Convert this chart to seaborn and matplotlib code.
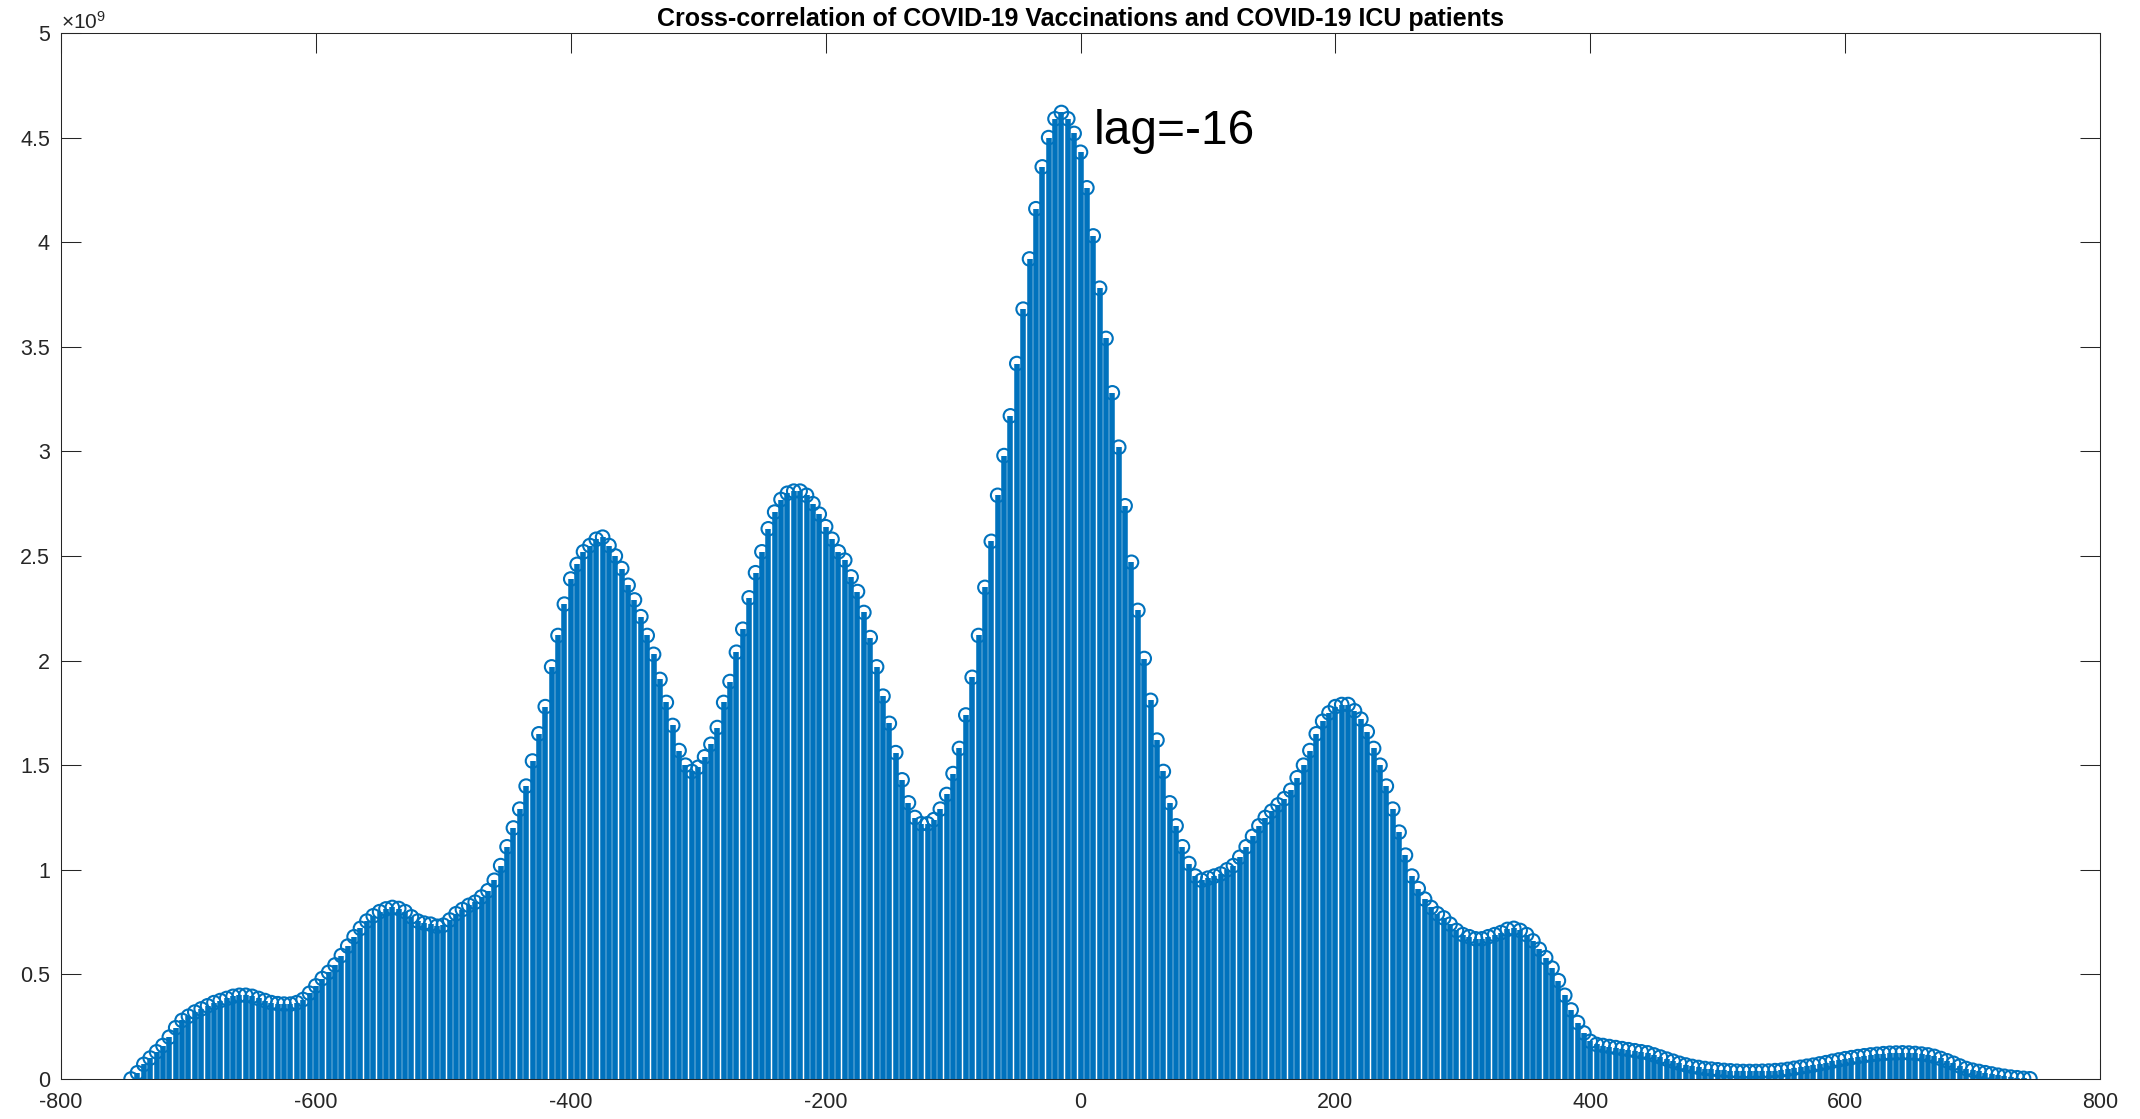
import numpy as np
import matplotlib
matplotlib.use("Agg")
import matplotlib.pyplot as plt
import seaborn as sns

# ---------------- data (values in units of 1e9) ----------------
lags = np.arange(-745, 746, 5)
xcorr_vals = [
    0.00, 0.03, 0.07, 0.10, 0.13, 0.16, 0.20, 0.245, 0.28, 0.30,        # -745 .. -700
    0.32, 0.335, 0.35, 0.365, 0.375, 0.385, 0.395, 0.40, 0.40, 0.395,   # -695 .. -650
    0.385, 0.375, 0.365, 0.36, 0.358, 0.358, 0.365, 0.38, 0.41, 0.445,  # -645 .. -600
    0.48, 0.51, 0.545, 0.59, 0.635, 0.68, 0.72, 0.755, 0.78, 0.80,      # -595 .. -550
    0.813, 0.82, 0.815, 0.80, 0.775, 0.755, 0.745, 0.74, 0.73, 0.735,   # -545 .. -500
    0.76, 0.79, 0.81, 0.83, 0.845, 0.87, 0.90, 0.95, 1.02, 1.11,        # -495 .. -450
    1.20, 1.29, 1.40, 1.52, 1.65, 1.78, 1.97, 2.12, 2.27, 2.39,         # -445 .. -400
    2.46, 2.52, 2.55, 2.58, 2.59, 2.55, 2.50, 2.44, 2.36, 2.29,         # -395 .. -350
    2.21, 2.12, 2.03, 1.91, 1.80, 1.69, 1.57, 1.50, 1.47, 1.49,         # -345 .. -300
    1.54, 1.60, 1.68, 1.80, 1.90, 2.04, 2.15, 2.30, 2.42, 2.52,         # -295 .. -250
    2.63, 2.71, 2.77, 2.80, 2.81, 2.81, 2.79, 2.75, 2.70, 2.64,         # -245 .. -200
    2.58, 2.52, 2.48, 2.40, 2.33, 2.23, 2.11, 1.97, 1.83, 1.70,         # -195 .. -150
    1.56, 1.43, 1.32, 1.25, 1.22, 1.22, 1.24, 1.29, 1.36, 1.46,         # -145 .. -100
    1.58, 1.74, 1.92, 2.12, 2.35, 2.57, 2.79, 2.98, 3.17, 3.42,         # -95 .. -50
    3.68, 3.92, 4.16, 4.36, 4.50, 4.59, 4.62, 4.59, 4.52, 4.43,         # -45 .. 0
    4.26, 4.03, 3.78, 3.54, 3.28, 3.02, 2.74, 2.47, 2.24, 2.01,         # 5 .. 50
    1.81, 1.62, 1.47, 1.32, 1.21, 1.11, 1.03, 0.97, 0.95, 0.96,         # 55 .. 100
    0.97, 0.98, 1.00, 1.02, 1.06, 1.11, 1.16, 1.21, 1.25, 1.28,         # 105 .. 150
    1.31, 1.34, 1.38, 1.44, 1.50, 1.57, 1.65, 1.71, 1.75, 1.78,         # 155 .. 200
    1.79, 1.79, 1.76, 1.72, 1.66, 1.58, 1.50, 1.40, 1.29, 1.18,         # 205 .. 250
    1.07, 0.97, 0.91, 0.86, 0.82, 0.79, 0.77, 0.74, 0.71, 0.69,         # 255 .. 300
    0.68, 0.67, 0.67, 0.68, 0.69, 0.70, 0.715, 0.72, 0.71, 0.69,        # 305 .. 350
    0.66, 0.62, 0.58, 0.53, 0.47, 0.40, 0.33, 0.27, 0.22, 0.18,         # 355 .. 400
    0.165, 0.16, 0.155, 0.15, 0.145, 0.14, 0.135, 0.13, 0.125, 0.115,   # 405 .. 450
    0.105, 0.095, 0.085, 0.075, 0.067, 0.06, 0.055, 0.05, 0.047, 0.044, # 455 .. 500
    0.041, 0.039, 0.037, 0.036, 0.036, 0.036, 0.037, 0.038, 0.04, 0.042,# 505 .. 550
    0.046, 0.051, 0.056, 0.061, 0.066, 0.072, 0.078, 0.085, 0.091, 0.097,  # 555 .. 600
    0.102, 0.107, 0.111, 0.115, 0.118, 0.121, 0.123, 0.124, 0.125, 0.124, # 605 .. 650
    0.122, 0.119, 0.115, 0.108, 0.098, 0.087, 0.075, 0.062, 0.05, 0.042,  # 655 .. 700
    0.036, 0.03, 0.024, 0.018, 0.013, 0.009, 0.006, 0.003, 0.001,         # 705 .. 745
]
xticks = [-800, -600, -400, -200, 0, 200, 400, 600, 800]
yticks = [0, 0.5, 1, 1.5, 2, 2.5, 3, 3.5, 4, 4.5, 5]
ytick_labels = ["0", "0.5", "1", "1.5", "2", "2.5", "3", "3.5", "4", "4.5", "5"]
title_text = "Cross-correlation of COVID-19 Vaccinations and COVID-19 ICU patients"
peak_label = "lag=-16"
peak_label_pos = (10.7, 4.47)

# ---------------- style ----------------
sns.set_theme(style="white")
plt.rcParams["font.family"] = ["Liberation Sans", "DejaVu Sans"]
plt.rcParams["axes.unicode_minus"] = False
plt.rcParams["mathtext.fontset"] = "custom"
plt.rcParams["mathtext.rm"] = "Liberation Sans"
plt.rcParams["mathtext.it"] = "Liberation Sans:italic"
plt.rcParams["mathtext.bf"] = "Liberation Sans:bold"

BLUE = "#0072BD"
AXC = "#262626"

W, H = 2140, 1119
fig = plt.figure(figsize=(W / 100, H / 100), dpi=100)
ax = fig.add_axes([61 / W, (H - 1079) / H, (2100 - 61) / W, (1079 - 33) / H])

ax.vlines(lags, 0, xcorr_vals, colors=BLUE, linewidth=4.0, zorder=2)
sns.scatterplot(x=lags, y=xcorr_vals, ax=ax, marker="o", s=95,
                facecolor="none", edgecolor=BLUE, linewidth=1.5,
                zorder=3, legend=False)

ax.set_xlim(-800, 800)
ax.set_ylim(0, 5)
ax.set_xticks(xticks)
ax.set_xticklabels([str(t) for t in xticks])
ax.set_yticks(yticks)
ax.set_yticklabels(ytick_labels)
ax.set_xlabel("")
ax.set_ylabel("")

ax.tick_params(axis="both", direction="in", length=14.4, width=0.75,
               color=AXC, labelcolor=AXC, labelsize=15.5,
               top=True, right=True, bottom=True, left=True,
               labeltop=False, labelright=False)
ax.tick_params(axis="x", pad=9)
ax.tick_params(axis="y", pad=8)
for sp in ax.spines.values():
    sp.set_visible(True)
    sp.set_color(AXC)
    sp.set_linewidth(0.75)

ax.set_title(title_text, fontweight="bold", fontsize=18, color="black", pad=5)
ax.text(peak_label_pos[0], peak_label_pos[1], peak_label, fontsize=34.5,
        ha="left", va="baseline", color="black", zorder=5)
ax.text(0.0, 1 + 4 / 1046, r"$\times\mathregular{10}^{9}$", transform=ax.transAxes,
        fontsize=15, ha="left", va="baseline", color=AXC)

fig.savefig("out.png", dpi=100, facecolor="white")
